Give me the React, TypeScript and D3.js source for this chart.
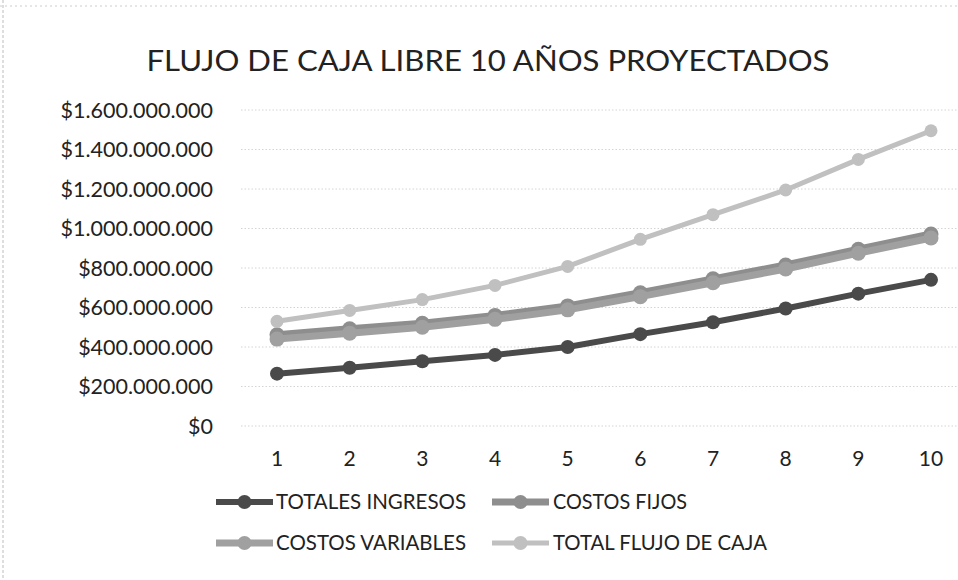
import React from "react";
import * as d3 from "d3";

const categories = ["1", "2", "3", "4", "5", "6", "7", "8", "9", "10"];
const totalesIngresos = [265e6, 295e6, 328e6, 360e6, 400e6, 465e6, 525e6, 595e6, 670e6, 740e6];
const costosFijos = [462e6, 492e6, 520e6, 560e6, 608e6, 675e6, 745e6, 815e6, 895e6, 972e6];
const costosVariables = [440e6, 470e6, 500e6, 540e6, 588e6, 655e6, 725e6, 795e6, 875e6, 952e6];
const totalFlujo = [530e6, 585e6, 640e6, 712e6, 808e6, 945e6, 1070e6, 1195e6, 1350e6, 1495e6];
const yTicks = [0, 2e8, 4e8, 6e8, 8e8, 10e8, 12e8, 14e8, 16e8];
const seriesNames = ["TOTALES INGRESOS", "COSTOS FIJOS", "COSTOS VARIABLES", "TOTAL FLUJO DE CAJA"];
const title = "FLUJO DE CAJA LIBRE 10 AÑOS PROYECTADOS";

const W = 958;
const H = 580;
const FONT = "Lato, 'Open Sans', sans-serif";

const fmt = (v: number) => {
  if (v === 0) return "$0";
  const s = Math.round(v).toString().replace(/\B(?=(\d{3})+(?!\d))/g, ".");
  return "$" + s;
};

export default function App() {
  const x = d3.scalePoint<string>().domain(categories).range([277, 931]);
  const y = d3.scaleLinear().domain([0, 1.6e9]).range([426, 110]);
  const line = d3
    .line<number>()
    .x((_, i) => x(categories[i]) as number)
    .y((d) => y(d));

  const series = [
    { name: seriesNames[0], data: totalesIngresos, color: "#4a4a4a", width: 6, r: 7 },
    { name: seriesNames[1], data: costosFijos, color: "#8e8e8e", width: 7, r: 7.5 },
    { name: seriesNames[2], data: costosVariables, color: "#a0a0a0", width: 7, r: 7.5 },
    { name: seriesNames[3], data: totalFlujo, color: "#c0c0c0", width: 5, r: 6.5 },
  ];

  const legendPos = [
    { mx: 216, tx: 276, y: 502, tl: 190 },
    { mx: 492, tx: 553, y: 502, tl: 134 },
    { mx: 216, tx: 276, y: 543, tl: 190 },
    { mx: 492, tx: 553, y: 543, tl: 214 },
  ];

  return (
    <svg
      width={W}
      height={H}
      viewBox={`0 0 ${W} ${H}`}
      style={{ position: "fixed", left: 0, top: 0, background: "#fff" }}
    >
      <rect x={0} y={0} width={W} height={H} fill="#fff" />
      <line x1={0} x2={W} y1={6} y2={6} stroke="#cccccc" strokeWidth={1} strokeDasharray="2,3" />
      <line x1={3} x2={3} y1={0} y2={H} stroke="#bdbdbd" strokeWidth={1} strokeDasharray="3,2" />

      <text
        x={488}
        y={71}
        textAnchor="middle"
        fontFamily={FONT}
        fontSize={28}
        fill="#222"
        textLength={683}
        lengthAdjust="spacingAndGlyphs"
      >
        {title}
      </text>

      {yTicks.map((t) => (
        <g key={t}>
          <line
            x1={241}
            x2={W}
            y1={y(t)}
            y2={y(t)}
            stroke="#d4d4d4"
            strokeWidth={1}
            strokeDasharray="1.5,2"
          />
          <text
            x={213}
            y={y(t)}
            dy="0.35em"
            textAnchor="end"
            fontFamily={FONT}
            fontSize={21.5}
            fill="#222"
          >
            {fmt(t)}
          </text>
        </g>
      ))}

      {categories.map((c) => (
        <text
          key={c}
          x={x(c)}
          y={466}
          textAnchor="middle"
          fontFamily={FONT}
          fontSize={21}
          fill="#222"
        >
          {c}
        </text>
      ))}

      {series.map((s) => (
        <g key={s.name}>
          <path d={line(s.data) || ""} fill="none" stroke={s.color} strokeWidth={s.width} strokeLinejoin="round" />
          {s.data.map((d, i) => (
            <circle key={i} cx={x(categories[i])} cy={y(d)} r={s.r} fill={s.color} />
          ))}
        </g>
      ))}

      {series.map((s, i) => {
        const p = legendPos[i];
        return (
          <g key={"lg" + s.name}>
            <line x1={p.mx} x2={p.mx + 57} y1={p.y} y2={p.y} stroke={s.color} strokeWidth={s.width} />
            <circle cx={p.mx + 28.5} cy={p.y} r={7} fill={s.color} />
            <text
              x={p.tx}
              y={p.y}
              dy="0.35em"
              fontFamily={FONT}
              fontSize={21}
              fill="#222"
              textLength={p.tl}
              lengthAdjust="spacingAndGlyphs"
            >
              {s.name}
            </text>
          </g>
        );
      })}
    </svg>
  );
}
